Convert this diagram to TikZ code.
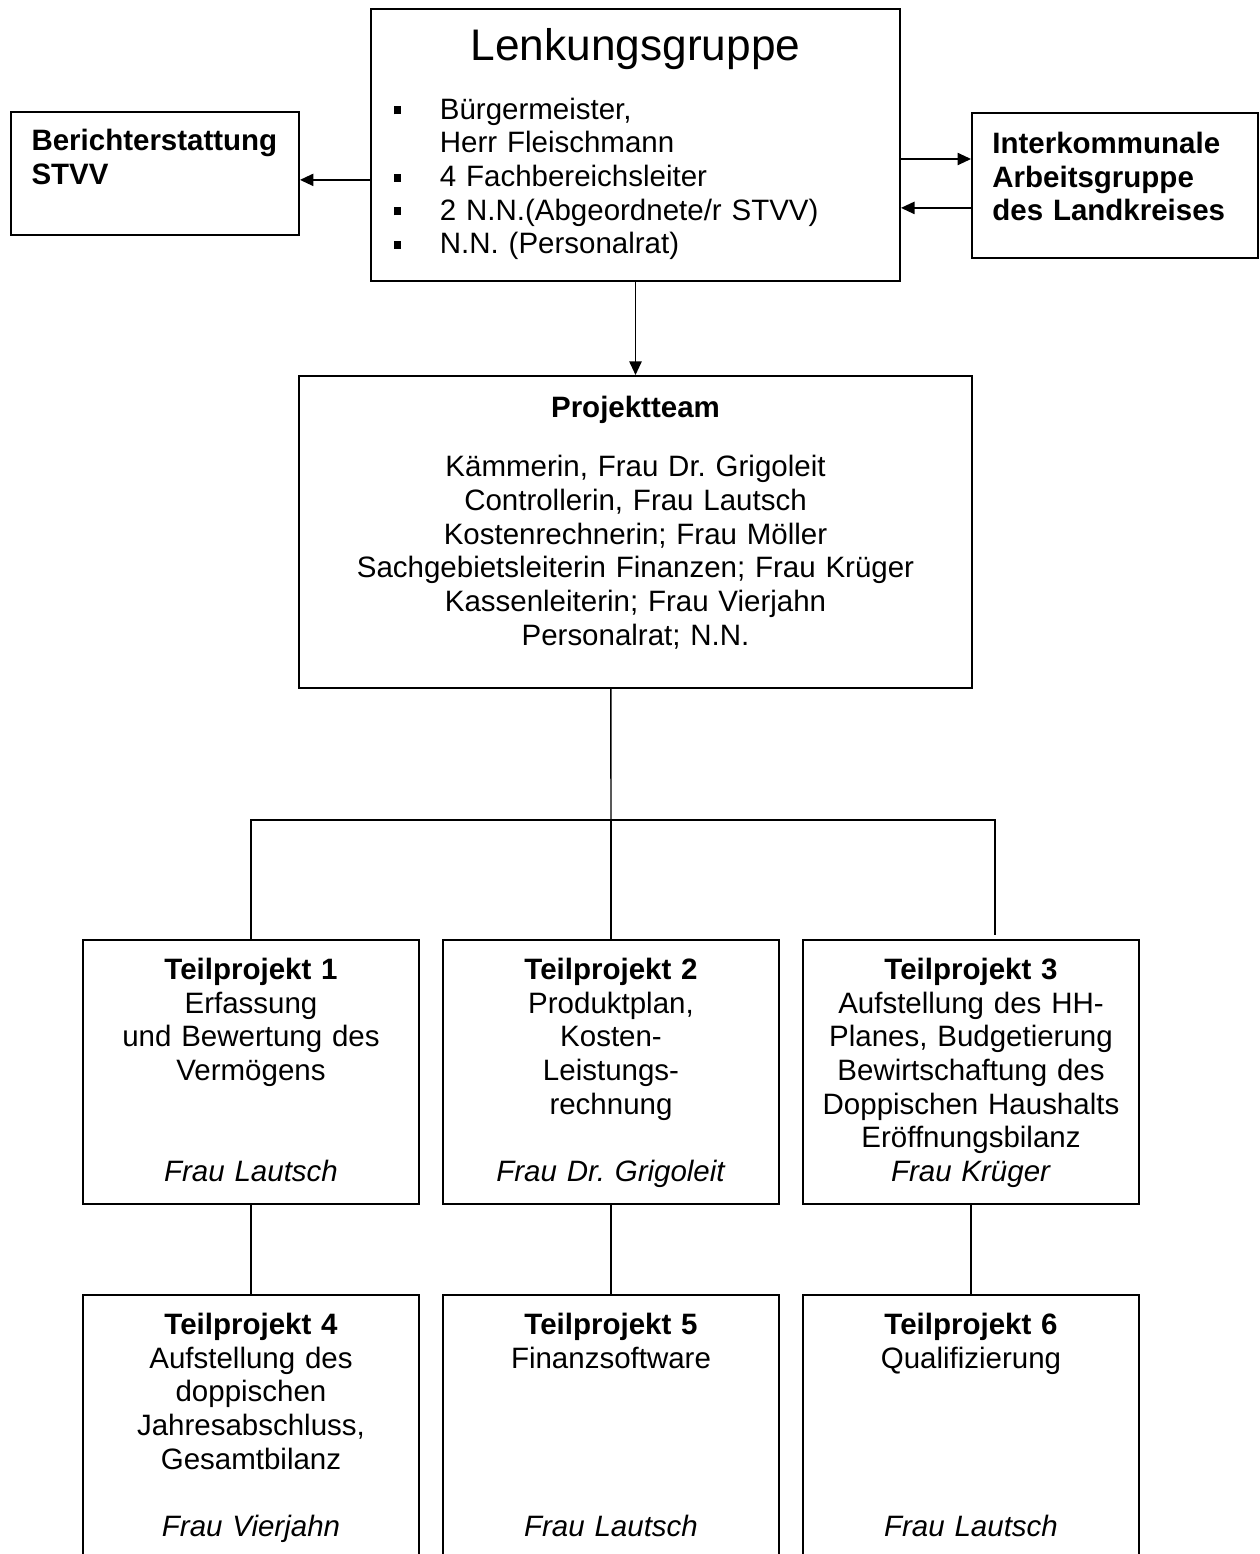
\documentclass[tikz,border=0pt]{standalone}
\usepackage{fontspec}
\setmainfont{Liberation Sans}
\usetikzlibrary{arrows.meta}
\frenchspacing
\newcommand{\sqitem}{\makebox[18.7pt][l]{\rule[2pt]{2.9pt}{3.2pt}}}
\begin{document}
\begin{tikzpicture}[
    x=0.407pt, y=-0.407pt,
    every node/.style={font=\fontsize{12}{13.7}\selectfont},
    box/.style={draw, line width=0.8pt, inner sep=0pt},
    infobox/.style={box, minimum width=117.2pt, minimum height=50.1pt,
      align=left, font=\fontsize{12}{13.7}\selectfont\bfseries},
    part/.style={box, minimum width=136.8pt, minimum height=107.4pt,
      text width=130pt, align=center, text depth=83.9pt},
    link/.style={line width=0.6pt},
    arr/.style={link, -{Triangle[length=5.5pt,width=5pt]}}
    ]
    \useasboundingbox (0,0) rectangle (1259,1554);

    % Lenkungsgruppe and side boxes
    \node[box, minimum width=215.3pt, minimum height=110.7pt,
      text width=196.6pt, align=left, text depth=82pt] (lenk) at (635.5,145)
      {\makebox[\linewidth][c]{\fontsize{18}{20}\selectfont Lenkungsgruppe}\\[10.3pt]
       \sqitem Bürgermeister,\\
       \hspace*{18.7pt}Herr Fleischmann\\
       \sqitem 4 Fachbereichsleiter\\
       \sqitem 2 N.N.(Abgeordnete/r STVV)\\
       \sqitem N.N. (Personalrat)};
    \node[infobox, text width=100.5pt, text depth=27.3pt] (bericht) at (155,173.5)
      {Berichterstattung\\STVV};
    \node[infobox, minimum width=116.4pt, minimum height=59pt, text width=99.8pt,
      text depth=34.6pt] (interk) at (1115,185.5)
      {Interkommunale\\Arbeitsgruppe\\des Landkreises};

    \draw[arr] ([yshift=-14.2pt]lenk.west) -- ([yshift=-14.2pt]lenk.west -| bericht.east);
    \draw[arr] ([yshift=-5.7pt]lenk.east) -- ([yshift=-5.7pt]lenk.east -| interk.west);
    \draw[arr] ([yshift=-25.6pt]lenk.east -| interk.west) -- ([yshift=-25.6pt]lenk.east);

    % Projektteam
    \node[box, minimum width=273.9pt, minimum height=127pt, text width=260pt,
      align=center, text depth=101.7pt] (team) at (635.5,532)
      {\textbf{Projektteam}\\[10.3pt]
       Kämmerin, Frau Dr. Grigoleit\\
       Controllerin, Frau Lautsch\\
       Kostenrechnerin; Frau Möller\\
       Sachgebietsleiterin Finanzen; Frau Krüger\\
       Kassenleiterin; Frau Vierjahn\\
       Personalrat; N.N.};
    \draw[arr] (lenk.south) -- (team.north);

    % Teilprojekte
    \node[part] (tp1) at (251,1072)
      {\textbf{Teilprojekt 1}\\Erfassung\\und Bewertung des\\Vermögens\\\mbox{}\\\mbox{}\\\textit{Frau Lautsch}};
    \node[part] (tp2) at (611,1072)
      {\textbf{Teilprojekt 2}\\Produktplan,\\Kosten-\\Leistungs-\\rechnung\\\mbox{}\\\textit{Frau Dr. Grigoleit}};
    \node[part] (tp3) at (971,1072)
      {\textbf{Teilprojekt 3}\\Aufstellung des HH-\\Planes, Budgetierung\\Bewirtschaftung des\\Doppischen Haushalts\\Eröffnungsbilanz\\\textit{Frau Krüger}};
    \node[part] (tp4) at (251,1427)
      {\textbf{Teilprojekt 4}\\Aufstellung des\\doppischen\\Jahresabschluss,\\Gesamtbilanz\\\mbox{}\\\textit{Frau Vierjahn}};
    \node[part] (tp5) at (611,1427)
      {\textbf{Teilprojekt 5}\\Finanzsoftware\\\mbox{}\\\mbox{}\\\mbox{}\\\mbox{}\\\textit{Frau Lautsch}};
    \node[part] (tp6) at (971,1427)
      {\textbf{Teilprojekt 6}\\Qualifizierung\\\mbox{}\\\mbox{}\\\mbox{}\\\mbox{}\\\textit{Frau Lautsch}};

    \coordinate (split) at (611,820);
    \draw[link] ([xshift=-10pt]team.south) -- (split);
    \draw[link] (tp1.north) |- (split) -- (tp2.north);
    \draw[link] (split) -| ([xshift=9.8pt,yshift=1.6pt]tp3.north);
    \foreach \a/\b in {tp1/tp4,tp2/tp5,tp3/tp6}
      \draw[link] (\a.south) -- (\b.north);
\end{tikzpicture}
\end{document}
